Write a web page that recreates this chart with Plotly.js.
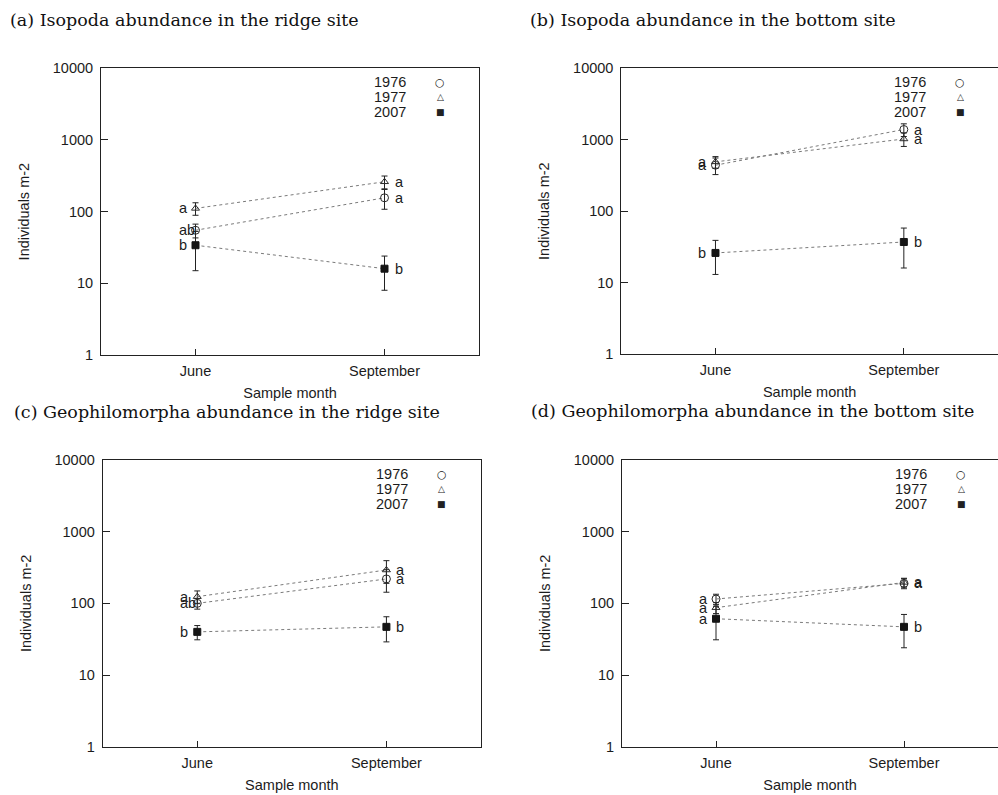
<!DOCTYPE html>
<html>
<head>
<meta charset="utf-8">
<script src="https://cdn.plot.ly/plotly-3.0.1.min.js"></script>
<style>html,body{margin:0;padding:0;background:#fff;}#chart{width:998px;height:795px;}</style>
</head>
<body>
<div id="chart"></div>
<script>
// ---- data ----
const months = ['June', 'September'];
const years = ['1976', '1977', '2007'];

// (a) Isopoda, ridge
const isoRidge1976 = [55, 156];   const isoRidge1976SE = [12, 48];   const isoRidge1976Sig = ['ab', 'a'];
const isoRidge1977 = [111, 261];  const isoRidge1977SE = [22, 53];   const isoRidge1977Sig = ['a', 'a'];
const isoRidge2007 = [34, 16];    const isoRidge2007SE = [19, 8];    const isoRidge2007Sig = ['b', 'b'];
// (b) Isopoda, bottom
const isoBottom1976 = [440, 1390]; const isoBottom1976SE = [115, 280]; const isoBottom1976Sig = ['a', 'a'];
const isoBottom1977 = [490, 1025]; const isoBottom1977SE = [90, 220];  const isoBottom1977Sig = ['a', 'a'];
const isoBottom2007 = [26, 37];    const isoBottom2007SE = [13, 21];   const isoBottom2007Sig = ['b', 'b'];
// (c) Geophilomorpha, ridge
const geoRidge1976 = [100, 219];  const geoRidge1976SE = [17, 76];   const geoRidge1976Sig = ['ab', 'a'];
const geoRidge1977 = [124, 292];  const geoRidge1977SE = [25, 102];  const geoRidge1977Sig = ['a', 'a'];
const geoRidge2007 = [40, 47];    const geoRidge2007SE = [9, 18];    const geoRidge2007Sig = ['b', 'b'];
// (d) Geophilomorpha, bottom
const geoBottom1976 = [115, 190]; const geoBottom1976SE = [19, 30];  const geoBottom1976Sig = ['a', 'a'];
const geoBottom1977 = [87, 196];  const geoBottom1977SE = [15, 28];  const geoBottom1977Sig = ['a', 'a'];
const geoBottom2007 = [61, 47];   const geoBottom2007SE = [30, 23];  const geoBottom2007Sig = ['a', 'b'];

const captions = [
  '(a) Isopoda abundance in the ridge site',
  '(b) Isopoda abundance in the bottom site',
  '(c) Geophilomorpha abundance in the ridge site',
  '(d) Geophilomorpha abundance in the bottom site'
];
const yTicks = [1, 10, 100, 1000, 10000];
const yTickText = ['1', '10', '100', '1000', '10000'];
const xTitle = 'Sample month';
const yTitle = 'Individuals m-2';

// ---- build ----
const W = 998, H = 795;
const panels = [
  {means: [isoRidge1976, isoRidge1977, isoRidge2007], se: [isoRidge1976SE, isoRidge1977SE, isoRidge2007SE], sig: [isoRidge1976Sig, isoRidge1977Sig, isoRidge2007Sig],
   box: {l: 101, r: 479, t: 68.3, b: 355}, cap: {x: 8, y: 20}},
  {means: [isoBottom1976, isoBottom1977, isoBottom2007], se: [isoBottom1976SE, isoBottom1977SE, isoBottom2007SE], sig: [isoBottom1976Sig, isoBottom1977Sig, isoBottom2007Sig],
   box: {l: 621.3, r: 998, t: 68.3, b: 354}, cap: {x: 528, y: 20}},
  {means: [geoRidge1976, geoRidge1977, geoRidge2007], se: [geoRidge1976SE, geoRidge1977SE, geoRidge2007SE], sig: [geoRidge1976Sig, geoRidge1977Sig, geoRidge2007Sig],
   box: {l: 102.7, r: 481, t: 460, b: 746.7}, cap: {x: 12, y: 411.5}},
  {means: [geoBottom1976, geoBottom1977, geoBottom2007], se: [geoBottom1976SE, geoBottom1977SE, geoBottom2007SE], sig: [geoBottom1976Sig, geoBottom1977Sig, geoBottom2007Sig],
   box: {l: 622, r: 998, t: 460, b: 746.7}, cap: {x: 529, y: 411}}
];

const sans = 'Liberation Sans, Arial, sans-serif';
const ink = '#1c1c1c';
const markerStyle = [
  {symbol: 'circle-open', size: 8, color: '#2a2a2a', line: {width: 1, color: '#2a2a2a'}},
  {symbol: 'triangle-up-open', size: 7, color: '#2a2a2a', line: {width: 1, color: '#2a2a2a'}},
  {symbol: 'square', size: 7, color: '#151515', line: {width: 1, color: '#151515'}}
];
const legendGlyph = ['○', '△', '■'];
const legendGlyphSize = [11, 9, 9];

const data = [];
const layout = {
  width: W, height: H,
  margin: {l: 0, r: 0, t: 0, b: 0},
  paper_bgcolor: '#fff', plot_bgcolor: '#fff',
  showlegend: false,
  font: {family: sans, size: 14, color: ink},
  annotations: []
};

panels.forEach((p, k) => {
  const sfx = k === 0 ? '' : String(k + 1);
  const xa = 'x' + sfx, ya = 'y' + sfx;
  const xKey = 'xaxis' + sfx, yKey = 'yaxis' + sfx;
  layout[xKey] = {
    domain: [p.box.l / W, Math.min(1, p.box.r / W)],
    anchor: ya,
    type: 'category',
    range: [-0.5, 1.5],
    showline: true, mirror: true, linecolor: '#222', linewidth: 1,
    ticks: 'inside', ticklen: 6, tickcolor: '#222',
    showgrid: false, zeroline: false,
    tickfont: {family: sans, size: 14.5, color: ink},
    ticklabelstandoff: 3,
    title: {text: xTitle, font: {family: sans, size: 14.5, color: ink}, standoff: 9}
  };
  layout[yKey] = {
    domain: [1 - p.box.b / H, 1 - p.box.t / H],
    anchor: xa,
    type: 'log',
    range: [0, 4],
    tickvals: yTicks, ticktext: yTickText,
    showline: true, mirror: true, linecolor: '#222', linewidth: 1,
    ticks: 'inside', ticklen: 7, tickcolor: '#222',
    showgrid: false, zeroline: false,
    tickfont: {family: sans, size: 14.5, color: ink},
    ticklabelstandoff: 4,
    title: {text: yTitle, font: {family: sans, size: 14.5, color: ink}, standoff: 19}
  };

  p.means.forEach((vals, i) => {
    data.push({
      type: 'scatter', mode: 'lines+markers',
      x: months, y: vals,
      xaxis: xa, yaxis: ya,
      name: years[i],
      line: {color: '#7a7a7a', width: 1, dash: 'dot'},
      marker: markerStyle[i],
      error_y: {type: 'data', array: p.se[i], visible: true, color: '#222', thickness: 1, width: 3},
      cliponaxis: false
    });
    // significance letters
    vals.forEach((v, j) => {
      layout.annotations.push({
        xref: xa, yref: ya, x: j, y: Math.log10(v),
        text: p.sig[i][j], showarrow: false,
        xanchor: 'left', yanchor: 'middle',
        xshift: j === 0 ? -19 : 8,
        font: {family: sans, size: 14.5, color: ink}
      });
    });
    // legend entries (text then symbol)
    layout.annotations.push({
      xref: xa + ' domain', yref: ya + ' domain', x: 0, y: 1,
      xshift: 307, yshift: -(14 + 14.8 * i),
      xanchor: 'right', yanchor: 'middle',
      text: years[i], showarrow: false,
      font: {family: sans, size: 14.5, color: ink}
    });
    layout.annotations.push({
      xref: xa + ' domain', yref: ya + ' domain', x: 0, y: 1,
      xshift: 339, yshift: -(14 + 14.8 * i),
      xanchor: 'center', yanchor: 'middle',
      text: legendGlyph[i], showarrow: false,
      font: {family: 'DejaVu Sans', size: legendGlyphSize[i], color: '#222'}
    });
  });

  layout.annotations.push({
    xref: 'paper', yref: 'paper',
    x: p.cap.x / W, y: 1 - p.cap.y / H,
    xanchor: 'left', yanchor: 'middle',
    text: captions[k], showarrow: false,
    font: {family: 'DejaVu Serif, Liberation Serif, serif', size: 17.5, color: '#111'}
  });
});

Plotly.newPlot('chart', data, layout, {staticPlot: true, displayModeBar: false});
</script>
</body>
</html>
